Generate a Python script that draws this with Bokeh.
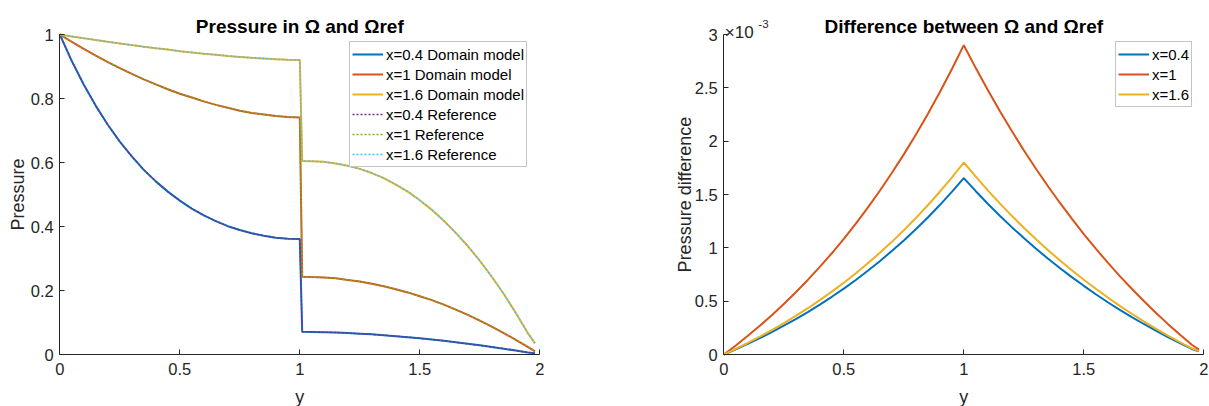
import math
from bokeh.plotting import figure
from bokeh.models import Range1d, FixedTicker, CustomJSTickFormatter, Legend, LegendItem, Label
from bokeh.layouts import row
from bokeh.embed import file_html
from bokeh.resources import INLINE

FONT = "Liberation Sans"
INK = "#262626"
BLUE, ORANGE, YELLOW = "#0072BD", "#D95319", "#EDB120"
PURPLE, GREEN, CYAN = "#7E2F8E", "#77AC30", "#4DBEEE"

# ---- pressure along y for three x positions (jump at the interface y = 1) ----
y_pressure = [0.0, 0.05, 0.1, 0.15, 0.2, 0.25, 0.3, 0.35, 0.4, 0.45, 0.5,
              0.55, 0.6, 0.65, 0.7, 0.75, 0.8, 0.85, 0.9, 0.95, 1.0,
              1.01, 1.05, 1.1, 1.15, 1.2, 1.25, 1.3, 1.35, 1.4, 1.45, 1.5,
              1.55, 1.6, 1.65, 1.7, 1.75, 1.8, 1.85, 1.9, 1.95, 1.98]

p_x04 = [1.0, 0.917, 0.843, 0.777, 0.718, 0.665, 0.619, 0.577, 0.541, 0.509, 0.481,
         0.456, 0.435, 0.417, 0.401, 0.389, 0.379, 0.371, 0.365, 0.362, 0.361,
         0.071, 0.0707, 0.0699, 0.0687, 0.0671, 0.0651, 0.0629, 0.0603, 0.0574, 0.0542, 0.0506,
         0.0468, 0.0427, 0.0383, 0.0337, 0.0287, 0.0235, 0.018, 0.0123, 0.0063, 0.004]
p_x1 = [1.0, 0.977, 0.955, 0.934, 0.914, 0.895, 0.877, 0.860, 0.844, 0.829, 0.815,
        0.803, 0.791, 0.780, 0.771, 0.762, 0.755, 0.750, 0.745, 0.742, 0.741,
        0.243, 0.242, 0.241, 0.238, 0.233, 0.228, 0.221, 0.213, 0.204, 0.194, 0.182,
        0.170, 0.156, 0.140, 0.124, 0.106, 0.087, 0.067, 0.046, 0.024, 0.010]
p_x16 = [1.0, 0.994, 0.988, 0.983, 0.977, 0.972, 0.967, 0.962, 0.957, 0.953, 0.948,
         0.944, 0.940, 0.937, 0.933, 0.930, 0.927, 0.925, 0.923, 0.921, 0.920,
         0.605, 0.604, 0.602, 0.597, 0.590, 0.580, 0.567, 0.551, 0.531, 0.509, 0.482,
         0.452, 0.418, 0.380, 0.339, 0.293, 0.243, 0.189, 0.130, 0.067, 0.035]

# reference solution (coincides with the domain model at this scale)
ref_x04 = list(p_x04)
ref_x1 = list(p_x1)
ref_x16 = list(p_x16)

# ---- pressure difference, in units of 1e-3 ----
y_diff = [0.0, 0.05, 0.1, 0.15, 0.2, 0.25, 0.3, 0.35, 0.4, 0.45, 0.5,
          0.55, 0.6, 0.65, 0.7, 0.75, 0.8, 0.85, 0.9, 0.95, 1.0,
          1.05, 1.1, 1.15, 1.2, 1.25, 1.3, 1.35, 1.4, 1.45, 1.5,
          1.55, 1.6, 1.65, 1.7, 1.75, 1.8, 1.85, 1.9, 1.95, 1.98]
dp_x04 = [0.0, 0.049, 0.100, 0.153, 0.210, 0.270, 0.332, 0.398, 0.468, 0.541, 0.618,
          0.699, 0.785, 0.875, 0.970, 1.069, 1.174, 1.285, 1.401, 1.524, 1.653,
          1.531, 1.413, 1.301, 1.194, 1.092, 0.994, 0.900, 0.811, 0.725, 0.644,
          0.565, 0.490, 0.419, 0.351, 0.286, 0.223, 0.164, 0.107, 0.052, 0.030]
dp_x1 = [0.0, 0.085, 0.175, 0.269, 0.368, 0.473, 0.583, 0.699, 0.821, 0.949, 1.085,
         1.227, 1.377, 1.535, 1.701, 1.876, 2.060, 2.254, 2.459, 2.674, 2.9,
         2.685, 2.480, 2.283, 2.095, 1.915, 1.744, 1.580, 1.423, 1.273, 1.129,
         0.992, 0.861, 0.735, 0.616, 0.501, 0.392, 0.287, 0.187, 0.091, 0.045]
dp_x16 = [0.0, 0.053, 0.108, 0.167, 0.229, 0.294, 0.362, 0.434, 0.510, 0.589, 0.673,
          0.762, 0.855, 0.953, 1.056, 1.164, 1.279, 1.399, 1.526, 1.659, 1.80,
          1.667, 1.539, 1.417, 1.300, 1.189, 1.082, 0.980, 0.883, 0.790, 0.701,
          0.616, 0.534, 0.456, 0.382, 0.311, 0.243, 0.178, 0.116, 0.057, 0.032]

x_ticks = [0, 0.5, 1, 1.5, 2]
p_ticks = [0, 0.2, 0.4, 0.6, 0.8, 1]
dp_ticks = [0, 0.5, 1, 1.5, 2, 2.5, 3]

FMT = CustomJSTickFormatter(code="return String(Math.round(tick*100)/100)")

H = 406
AX_LEFT, AX_W = 59.3, 480.0      # left panel: axes box in canvas pixels
AX_TOP, AX_BOT = 34.0, 354.0
AX2_LEFT = 123.3                 # right panel: offset of the axes box in its canvas


def make_axes(width, ax_left, y_max, yticks):
    """Axes box drawn inside a full-canvas frame so text around it is never clipped."""
    xs = 2.0 / AX_W
    ys = y_max / (AX_BOT - AX_TOP)
    xr = Range1d(-ax_left * xs, 2.0 + (width - ax_left - AX_W) * xs)
    yr = Range1d(-(H - AX_BOT) * ys, y_max + AX_TOP * ys)
    p = figure(width=width, height=H, x_range=xr, y_range=yr,
               output_backend="svg", toolbar_location=None,
               min_border=0, min_border_left=0, min_border_right=0,
               min_border_top=0, min_border_bottom=0)
    p.outline_line_color = None
    p.grid.visible = False
    p.xaxis.ticker = FixedTicker(ticks=x_ticks)
    p.yaxis.ticker = FixedTicker(ticks=yticks)
    p.xaxis.fixed_location = 0
    p.yaxis.fixed_location = 0
    p.xaxis.bounds = (0, 2)
    p.yaxis.bounds = (0, y_max)
    for ax in (p.xaxis, p.yaxis):
        ax.formatter = FMT
        ax.axis_line_color = INK
        ax.major_tick_line_color = INK
        ax.major_tick_in = 5
        ax.major_tick_out = 0
        ax.minor_tick_line_color = None
        ax.major_label_text_font = FONT
        ax.major_label_text_font_size = "16.5px"
        ax.major_label_text_color = INK
    p.xaxis.major_label_standoff = 8
    p.yaxis.major_label_standoff = 6
    return p, xs, ys


def add_text(p, x, y, text, size, bold=False, align="left", baseline="alphabetic",
             angle=0.0, color=INK):
    p.add_layout(Label(x=x, y=y, text=text, text_align=align, text_baseline=baseline,
                       angle=angle, text_font=FONT, text_font_size=size,
                       text_font_style="bold" if bold else "normal", text_color=color))


def style_legend(leg, loc):
    leg.location = loc
    leg.margin = 0
    leg.padding = 2
    leg.spacing = 0
    leg.glyph_width = 31
    leg.glyph_height = 20
    leg.label_height = 20
    leg.label_standoff = 3
    leg.label_text_font = FONT
    leg.label_text_font_size = "15px"
    leg.label_text_color = "black"
    leg.border_line_color = "#8a8a8a"
    leg.border_line_width = 1
    leg.background_fill_color = "white"
    leg.background_fill_alpha = 1


def px_to_data(px, py, ax_left, xs, ys):
    return (px - ax_left) * xs, (AX_BOT - py) * ys


# ---- left: pressure ----
W1 = 600
p1, xs1, ys1 = make_axes(W1, AX_LEFT, 1.0, p_ticks)
d1 = p1.line(y_pressure, p_x04, line_color=BLUE, line_width=2)
d2 = p1.line(y_pressure, p_x1, line_color=ORANGE, line_width=2)
d3 = p1.line(y_pressure, p_x16, line_color=YELLOW, line_width=2)
r1 = p1.line(y_pressure, ref_x04, line_color=PURPLE, line_width=1.5, line_dash="2 2")
r2 = p1.line(y_pressure, ref_x1, line_color=GREEN, line_width=1.5, line_dash="2 2")
r3 = p1.line(y_pressure, ref_x16, line_color=CYAN, line_width=1.5, line_dash="2 2")

add_text(p1, *px_to_data(AX_LEFT + AX_W / 2, 26, AX_LEFT, xs1, ys1),
         "Pressure in Ω and Ωref", "19px", bold=True, align="center", color="black")
add_text(p1, *px_to_data(AX_LEFT + AX_W / 2, 396, AX_LEFT, xs1, ys1),
         "y", "18px", align="center", baseline="middle")
add_text(p1, *px_to_data(17, (AX_TOP + AX_BOT) / 2, AX_LEFT, xs1, ys1),
         "Pressure", "18px", align="center", baseline="middle", angle=math.pi / 2)

leg1 = Legend(items=[
    LegendItem(label="x=0.4 Domain model", renderers=[d1]),
    LegendItem(label="x=1 Domain model", renderers=[d2]),
    LegendItem(label="x=1.6 Domain model", renderers=[d3]),
    LegendItem(label="x=0.4 Reference", renderers=[r1]),
    LegendItem(label="x=1 Reference", renderers=[r2]),
    LegendItem(label="x=1.6 Reference", renderers=[r3]),
])
style_legend(leg1, (349, H - 167))
p1.add_layout(leg1)

# ---- right: pressure difference ----
W2 = 609
p2, xs2, ys2 = make_axes(W2, AX2_LEFT, 3.0, dp_ticks)
e1 = p2.line(y_diff, dp_x04, line_color=BLUE, line_width=2)
e2 = p2.line(y_diff, dp_x1, line_color=ORANGE, line_width=2)
e3 = p2.line(y_diff, dp_x16, line_color=YELLOW, line_width=2)

add_text(p2, *px_to_data(AX2_LEFT + AX_W / 2, 26, AX2_LEFT, xs2, ys2),
         "Difference between Ω and Ωref", "19px", bold=True, align="center", color="black")
add_text(p2, *px_to_data(AX2_LEFT + AX_W / 2, 396, AX2_LEFT, xs2, ys2),
         "y", "18px", align="center", baseline="middle")
add_text(p2, *px_to_data(84, (AX_TOP + AX_BOT) / 2, AX2_LEFT, xs2, ys2),
         "Pressure difference", "18px", align="center", baseline="middle", angle=math.pi / 2)
# exponent of the y ticks
add_text(p2, *px_to_data(AX2_LEFT + 1, 31.7, AX2_LEFT, xs2, ys2), "×10", "17px")
add_text(p2, *px_to_data(AX2_LEFT + 34.5, 23.3, AX2_LEFT, xs2, ys2), "-3", "11.5px")

leg2 = Legend(items=[
    LegendItem(label="x=0.4", renderers=[e1]),
    LegendItem(label="x=1", renderers=[e2]),
    LegendItem(label="x=1.6", renderers=[e3]),
])
style_legend(leg2, (515, H - 107))
p2.add_layout(leg2)

layout = row(p1, p2)
open("out.html", "w").write(file_html(layout, INLINE))
